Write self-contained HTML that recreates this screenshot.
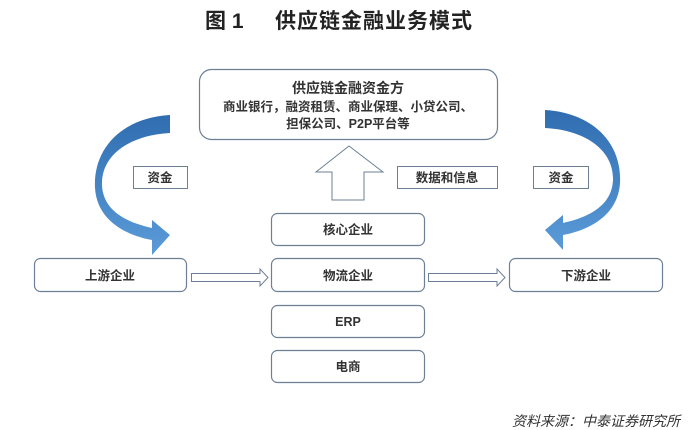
<!DOCTYPE html>
<html><head><meta charset="utf-8"><style>
body{margin:0;width:699px;height:430px;background:#fff;overflow:hidden;font-family:"Liberation Sans","Noto Sans CJK SC",sans-serif;}
</style></head><body>
<svg width="699" height="430" xmlns="http://www.w3.org/2000/svg" style="position:absolute;left:0;top:0">
<defs>
<linearGradient id="g" x1="0" y1="0" x2="0" y2="1">
<stop offset="0" stop-color="#2f6db0"/><stop offset="1" stop-color="#5b9bd8"/>
</linearGradient>
</defs>
<g font-family="Liberation Sans, Noto Sans CJK SC, sans-serif">
<text x="205" y="28" font-size="21" font-weight="bold" fill="#222">图 1</text>
<text x="275" y="28" font-size="21" font-weight="bold" fill="#222" letter-spacing="1">供应链金融业务模式</text>

<g fill="#fff" stroke="#6d7f95" stroke-width="1.2">
<rect x="199.5" y="69.5" width="298" height="70" rx="12"/>
<rect x="271.5" y="213.5" width="153" height="32" rx="6"/>
<rect x="271.5" y="258.5" width="153" height="33" rx="6"/>
<rect x="271.5" y="305.5" width="153" height="32" rx="6"/>
<rect x="271.5" y="350.5" width="153" height="32" rx="6"/>
<rect x="34.5" y="258.5" width="152" height="33" rx="6"/>
<rect x="509.5" y="258.5" width="153" height="33" rx="6"/>
</g>
<g fill="#fff" stroke="#6d7f95" stroke-width="1">
<rect x="133.5" y="166.5" width="54" height="22"/>
<rect x="397.5" y="166.5" width="100" height="22"/>
<rect x="533.5" y="166.5" width="55" height="22"/>
<path d="M349,146 L383,172 L364,172 L364,200 L332,200 L332,172 L316,172 Z"/>
<path d="M191.5,273.5 L260,273.5 L260,269 L268,277.5 L260,286 L260,281.5 L191.5,281.5 Z"/>
<path d="M428.5,273.5 L497,273.5 L497,269 L505,277.5 L497,286 L497,281.5 L428.5,281.5 Z"/>
</g>
<path fill="url(#g)" d="M170,115 C120,118 93,150 95,188 C97,220 125,235 152,240 L152,255 L170,235 L152,220 L152,228 C125,222 103,210 102,185 C101,155 130,135 170,133 Z"/>
<path fill="url(#g)" transform="matrix(-1,0,0,1,715,-5)" d="M170,115 C120,118 93,150 95,188 C97,220 125,235 152,240 L152,255 L170,235 L152,220 L152,228 C125,222 103,210 102,185 C101,155 130,135 170,133 Z"/>

<g font-weight="bold" fill="#333" text-anchor="middle">
<text x="348" y="93" font-size="14">供应链金融资金方</text>
<text x="348" y="111" font-size="12.5">商业银行，融资租赁、商业保理、小贷公司、</text>
<text x="348" y="128" font-size="12.5">担保公司、P2P平台等</text>
<text x="160" y="182" font-size="12.5">资金</text>
<text x="447" y="182" font-size="12.5">数据和信息</text>
<text x="561" y="182" font-size="12.5">资金</text>
<text x="348" y="234" font-size="12.5">核心企业</text>
<text x="348" y="280" font-size="12.5">物流企业</text>
<text x="348" y="326" font-size="12.5">ERP</text>
<text x="348" y="371" font-size="12.5">电商</text>
<text x="110" y="280" font-size="12.5">上游企业</text>
<text x="586" y="280" font-size="12.5">下游企业</text>
</g>
<text x="680" y="426" font-size="14" font-style="italic" fill="#333" text-anchor="end">资料来源：中泰证券研究所</text>
</g>
</svg>
</body></html>
